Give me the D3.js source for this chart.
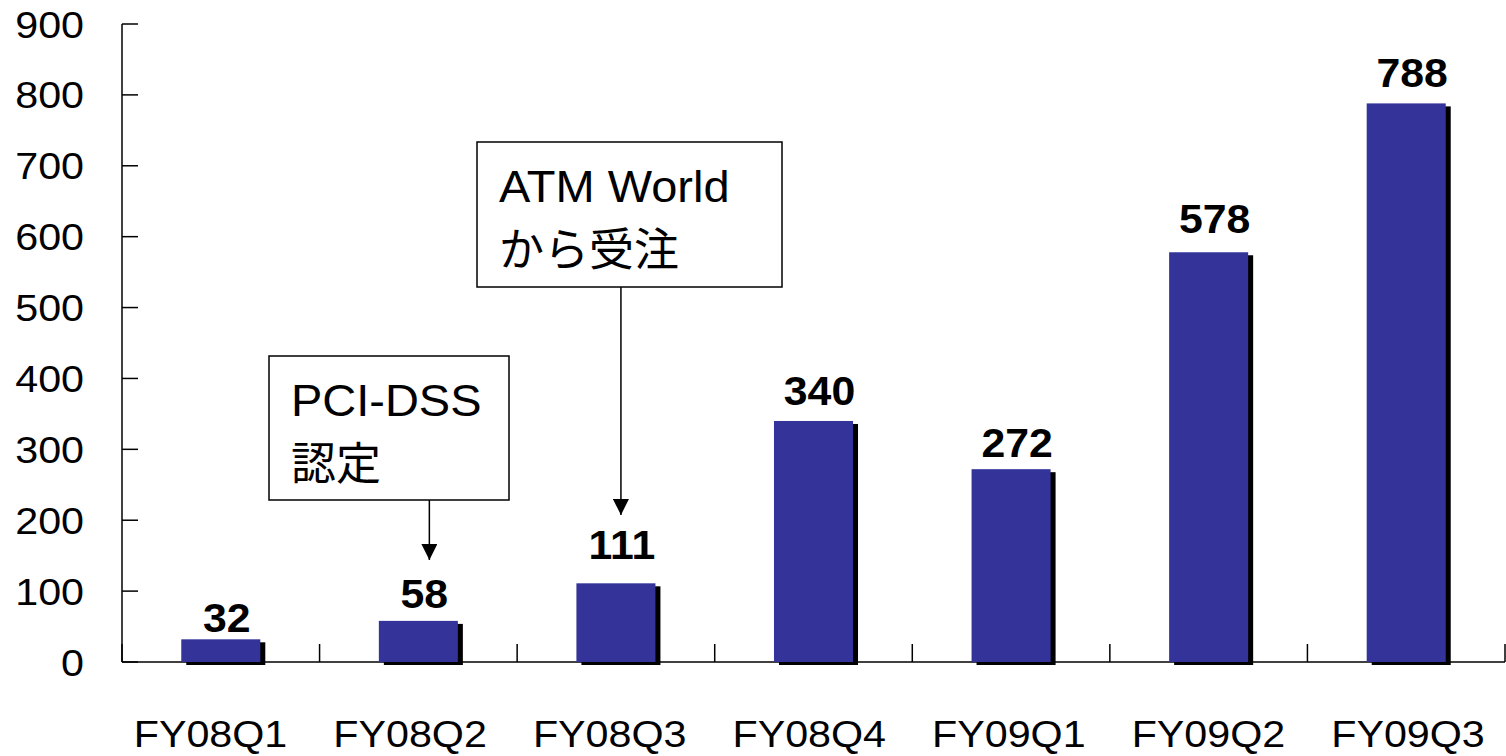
<!DOCTYPE html>
<html><head><meta charset="utf-8">
<script src="https://cdn.jsdelivr.net/npm/d3@7"></script>
<style>
html,body{margin:0;padding:0;background:#fff;}
text{font-family:"Liberation Sans",Arial,"Noto Sans CJK JP",sans-serif;}
</style></head>
<body>
<svg id="c" width="1506" height="756"></svg>
<script>
const categories = ["FY08Q1","FY08Q2","FY08Q3","FY08Q4","FY09Q1","FY09Q2","FY09Q3"];
const values = [32, 58, 111, 340, 272, 578, 788];
const yTicks = [0,100,200,300,400,500,600,700,800,900];
const annotations = [
  {category:"FY08Q2", latin:"PCI-DSS", cjk:"認定"},
  {category:"FY08Q3", latin:"ATM World", cjk:"から受注"}
];

// layout-only settings
const labelGaps = [7, 13, 24, 16, 12, 19, 16];
const SX = 1.1; // horizontal stretch of latin glyphs

const svg = d3.select("#c");
const x0 = 122, x1 = 1505, yTop = 24, yBot = 662;
const x = d3.scaleBand().domain(categories).range([x0, x1]).paddingInner(0.6).paddingOuter(0.3);
const xLab = d3.scalePoint().domain(categories).range([210.5, 1408]);
const y = d3.scaleLinear().domain([0, 900]).range([yBot, yTop]);
const step = x.step();

// axes
const g = svg.append("g");
g.append("line").attr("x1",x0).attr("x2",x0).attr("y1",y(900)).attr("y2",yBot).attr("stroke","#000").attr("stroke-width",1.5);
g.append("line").attr("x1",x0).attr("x2",x1).attr("y1",yBot).attr("y2",yBot).attr("stroke","#000").attr("stroke-width",1.5);
g.selectAll(".yt").data(yTicks).join("line")
  .attr("x1",x0).attr("x2",x0+16).attr("y1",d=>y(d)).attr("y2",d=>y(d)).attr("stroke","#000").attr("stroke-width",1.5);
g.selectAll(".yl").data(yTicks).join("text")
  .attr("transform",d=>`translate(84,${y(d)+13.5}) scale(${SX},1)`).attr("text-anchor","end")
  .attr("font-size",37.5).text(d=>d);
const bounds = d3.range(categories.length+1).map(i => x0 + i*step);
g.selectAll(".xt").data(bounds).join("line")
  .attr("x1",d=>d).attr("x2",d=>d).attr("y1",yBot-18).attr("y2",yBot).attr("stroke","#000").attr("stroke-width",1.5);
g.selectAll(".xl").data(categories).join("text")
  .attr("transform",d=>`translate(${xLab(d)},747) scale(${SX},1)`).attr("text-anchor","middle")
  .attr("font-size",37.5).text(d=>d);

// bars
const data = categories.map((c,i)=>({c, v:values[i], gap:labelGaps[i]}));
svg.selectAll(".sh").data(data).join("rect")
  .attr("x",d=>x(d.c)+5).attr("y",d=>y(d.v)+3).attr("width",x.bandwidth()).attr("height",d=>yBot-y(d.v)).attr("fill","#000");
svg.selectAll(".bar").data(data).join("rect")
  .attr("x",d=>x(d.c)).attr("y",d=>y(d.v)).attr("width",x.bandwidth()).attr("height",d=>yBot-y(d.v)).attr("fill","#333399");
svg.selectAll(".vl").data(data).join("text")
  .attr("transform",d=>`translate(${x(d.c)+x.bandwidth()/2+6},${y(d.v)-d.gap}) scale(1.07,1)`).attr("text-anchor","middle")
  .attr("font-size",40).attr("font-weight","bold").text(d=>d.v);

// annotations
const boxes = [
  {x:269, y:356, w:240, h:144, arrowX: x("FY08Q2")+x.bandwidth()/2+11, tip: 560},
  {x:477, y:142, w:305, h:145, arrowX: x("FY08Q3")+x.bandwidth()/2+5, tip: 515}
];
svg.append("defs").append("marker").attr("id","ah").attr("viewBox","0 0 10 10").attr("refX",10).attr("refY",5)
  .attr("markerWidth",16).attr("markerHeight",16).attr("markerUnits","userSpaceOnUse").attr("orient","auto")
  .append("path").attr("d","M0,0 L10,5 L0,10 Z").attr("fill","#000");
annotations.forEach((a,i)=>{
  const b = boxes[i];
  svg.append("rect").attr("x",b.x).attr("y",b.y).attr("width",b.w).attr("height",b.h)
    .attr("fill","#fff").attr("stroke","#000").attr("stroke-width",1.5);
  svg.append("text").attr("transform",`translate(${b.x+22},${b.y+60}) scale(1.08,1)`)
    .attr("font-size",43.5).text(a.latin);
  svg.append("text").attr("x",b.x+22).attr("y",b.y+124).attr("font-size",45)
    .style("font-family",'"Noto Sans CJK JP",sans-serif').text(a.cjk);
  svg.append("line").attr("x1",b.arrowX).attr("x2",b.arrowX).attr("y1",b.y+b.h).attr("y2",b.tip)
    .attr("stroke","#000").attr("stroke-width",1.5).attr("marker-end","url(#ah)");
});
</script>
</body></html>
